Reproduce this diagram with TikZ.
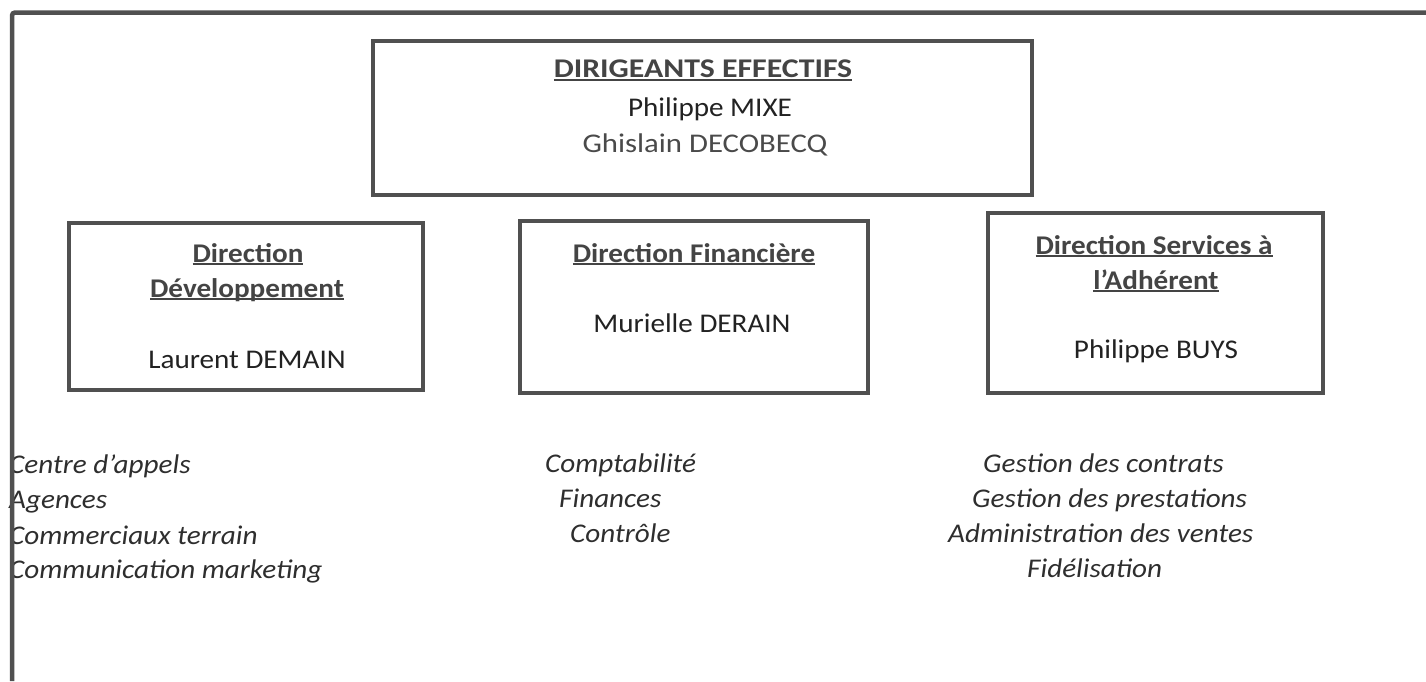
\documentclass[tikz,border=0pt]{standalone}
\usepackage{fontspec}
\setmainfont{Carlito}[FakeStretch=1.08]
\definecolor{linegray}{HTML}{505050}
\definecolor{headgray}{HTML}{444444}
\definecolor{namedark}{HTML}{222222}
\definecolor{namegray}{HTML}{4A4A4A}
\definecolor{listdark}{HTML}{2E2E2E}
\newcommand\ulin[1]{\setbox0\hbox{#1}\rlap{\rule[-3pt]{\wd0}{1.8pt}}\box0}
\tikzset{
  orgbox/.style={draw=linegray, line width=4pt, rectangle, inner sep=0pt},
  frameline/.style={draw=linegray, line width=4.5pt, rounded corners=3pt},
  basetxt/.style={anchor=base, inner sep=0pt, font=\fontsize{27}{32}\selectfont},
  headtxt/.style={basetxt, text=headgray, font=\fontsize{27}{32}\selectfont\bfseries},
  persontxt/.style={basetxt, text=namedark},
  listtxt/.style={anchor=base west, inner sep=0pt, text=listdark, font=\fontsize{27}{32}\selectfont\itshape}
}
\begin{document}
\begin{tikzpicture}[x=1pt,y=-1pt]
\useasboundingbox (0,0) rectangle (1426,681);
% boxes
\node[orgbox, minimum width=659pt, minimum height=154pt] (top) at (702.5,117.5) {};
\node[orgbox, minimum width=354pt, minimum height=167pt] (dev) at (246,306.5) {};
\node[orgbox, minimum width=348pt, minimum height=172pt] (fin) at (694,307) {};
\node[orgbox, minimum width=335pt, minimum height=180pt] (srv) at (1155.5,303) {};
% top box text
\node[headtxt] (t1) at (703,77.5) {\scalebox{1.09}[1]{\ulin{DIRIGEANTS EFFECTIFS}}};
\node[persontxt] (t2) at (710,116) {Philippe MIXE};
\node[persontxt, text=namegray] (t3) at (705,152) {\scalebox{1.055}[1]{Ghislain DECOBECQ}};
% left box
\node[headtxt] (d1) at (248,262) {\ulin{Direction}};
\node[headtxt] (d2) at (247,297) {\ulin{Développement}};
\node[persontxt] (d3) at (247,368) {Laurent DEMAIN};
% middle box
\node[headtxt] (f1) at (694,262) {\ulin{Direction Financière}};
\node[persontxt] (f2) at (692,332) {Murielle DERAIN};
% right box
\node[headtxt] (s1) at (1154,254) {\ulin{Direction Services à}};
\node[headtxt] (s2) at (1156,289) {\ulin{l’Adhérent}};
\node[persontxt] (s3) at (1156,358) {Philippe BUYS};
% lists
\node[listtxt] (l1) at (9,473) {Centre d’appels};
\node[listtxt] (l2) at (9,508) {Agences};
\node[listtxt] (l3) at (9,544) {Commerciaux terrain};
\node[listtxt] (l4) at (9,578) {Communication marketing};
\node[listtxt] (m1) at (545,472) {Comptabilité};
\node[listtxt] (m2) at (559,507) {Finances};
\node[listtxt] (m3) at (570,542) {Contrôle};
\node[listtxt] (r1) at (983,472) {Gestion des contrats};
\node[listtxt] (r2) at (972,507) {Gestion des prestations};
\node[listtxt] (r3) at (948,542) {Administration des ventes};
\node[listtxt] (r4) at (1027,577) {Fidélisation};
% frame
\coordinate (fb) at (12,681);
\coordinate (fc) at (12,12.5);
\coordinate (fr) at (1426,12.5);
\draw[frameline] (fb) -- (fc) -- (fr);
\end{tikzpicture}
\end{document}
